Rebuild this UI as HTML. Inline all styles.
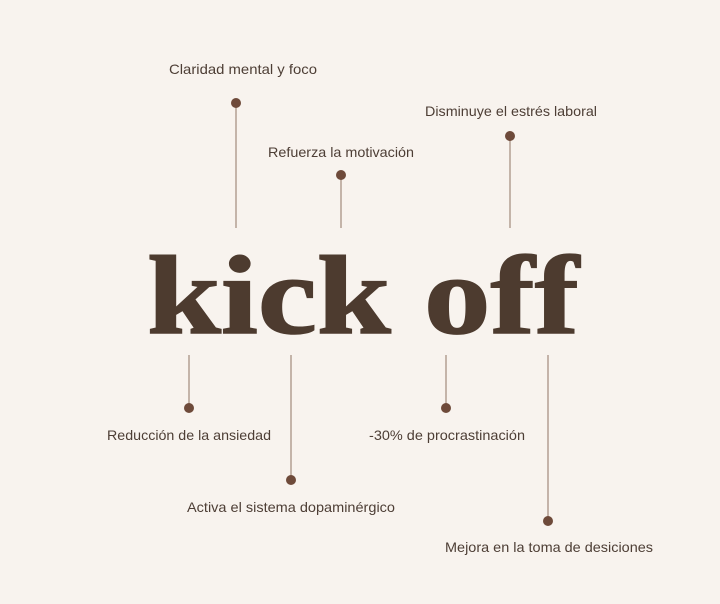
<!DOCTYPE html>
<html><head><meta charset="utf-8"><style>
html,body{margin:0;padding:0;background:#f8f3ee;}
svg{display:block}
.l{font-family:"Liberation Sans",sans-serif;font-size:14px;fill:#4d3e35;text-anchor:middle}
</style></head><body>
<svg width="720" height="604" viewBox="0 0 720 604">
<rect width="720" height="604" fill="#f8f3ee"/>
<g stroke="#b39e92" stroke-width="1.5">
<line x1="236" y1="103" x2="236" y2="228"/>
<line x1="341" y1="175" x2="341" y2="228"/>
<line x1="510" y1="136" x2="510" y2="228"/>
<line x1="189" y1="355" x2="189" y2="408"/>
<line x1="291" y1="355" x2="291" y2="480"/>
<line x1="446" y1="355" x2="446" y2="408"/>
<line x1="548" y1="355" x2="548" y2="521"/>
</g>
<g fill="#6e4a3a">
<circle cx="236" cy="103" r="5"/>
<circle cx="341" cy="175" r="5"/>
<circle cx="510" cy="136" r="5"/>
<circle cx="189" cy="408" r="5"/>
<circle cx="291" cy="480" r="5"/>
<circle cx="446" cy="408" r="5"/>
<circle cx="548" cy="521" r="5"/>
</g>
<text x="147" y="333" textLength="432" lengthAdjust="spacingAndGlyphs" font-family="Liberation Serif,serif" font-weight="bold" font-size="112" fill="#4d3b2f" stroke="#4d3b2f" stroke-width="1.5">kick off</text>
<text class="l" x="243" y="74" textLength="148" lengthAdjust="spacingAndGlyphs">Claridad mental y foco</text>
<text class="l" x="341" y="157" textLength="146" lengthAdjust="spacingAndGlyphs">Refuerza la motivación</text>
<text class="l" x="511" y="116" textLength="172" lengthAdjust="spacingAndGlyphs">Disminuye el estrés laboral</text>
<text class="l" x="189" y="440" textLength="164" lengthAdjust="spacingAndGlyphs">Reducción de la ansiedad</text>
<text class="l" x="447" y="440" textLength="156" lengthAdjust="spacingAndGlyphs">-30% de procrastinación</text>
<text class="l" x="291" y="512" textLength="208" lengthAdjust="spacingAndGlyphs">Activa el sistema dopaminérgico</text>
<text class="l" x="549" y="552" textLength="208" lengthAdjust="spacingAndGlyphs">Mejora en la toma de desiciones</text>
</svg>
</body></html>
